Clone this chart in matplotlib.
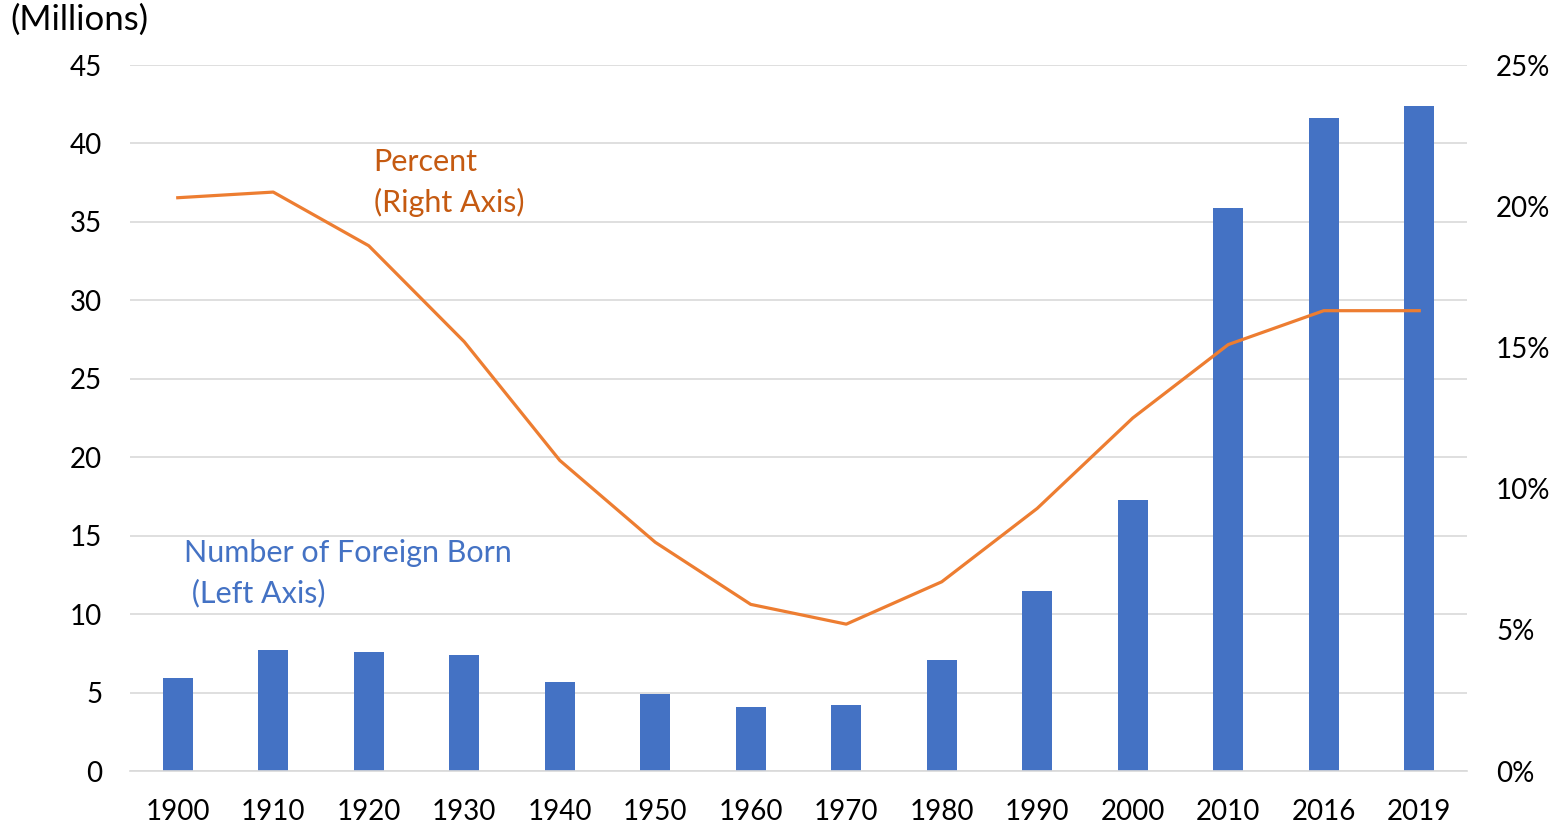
import numpy as np
import matplotlib
matplotlib.use("Agg")
import matplotlib.pyplot as plt
from matplotlib.ticker import FuncFormatter

# values
years = ["1900", "1910", "1920", "1930", "1940", "1950", "1960",
         "1970", "1980", "1990", "2000", "2010", "2016", "2019"]
foreign_born = [5.9, 7.7, 7.6, 7.4, 5.7, 4.9, 4.1,
                4.2, 7.1, 11.5, 17.3, 35.9, 41.6, 42.4]   # millions
percent = [20.3, 20.5, 18.6, 15.2, 11.0, 8.1, 5.9,
           5.2, 6.7, 9.3, 12.5, 15.1, 16.3, 16.3]        # percent

bar_col = "#4472C4"
line_col = "#ED7D31"
orange_txt = "#C55A11"
grid_col = "#D9D9D9"

plt.rcParams['font.family'] = ['Lato', 'DejaVu Sans']
fs = 20

fig = plt.figure(figsize=(15.65, 8.25), dpi=100)
ax = fig.add_axes([130 / 1565, 1 - 771 / 825, (1467 - 130) / 1565, (771 - 65) / 825])
ax2 = ax.twinx()

x = np.arange(len(years))
ax.bar(x, foreign_born, width=0.31, color=bar_col, zorder=2)
ax2.plot(x, percent, color=line_col, lw=2.3, zorder=3)

ax.set_xlim(-0.5, len(years) - 0.5)
ax.set_ylim(0, 45)
ax.set_yticks(range(0, 46, 5))
ax2.set_ylim(0, 25)
ax2.set_yticks(range(0, 26, 5))
ax2.yaxis.set_major_formatter(FuncFormatter(lambda v, p: "%d%%" % v))

ax.set_xticks(x)
ax.set_xticklabels(years)

ax.yaxis.grid(True, color=grid_col, lw=1.2, zorder=0)
ax.set_axisbelow(True)

for a in (ax, ax2):
    for s in a.spines.values():
        s.set_visible(False)
    a.tick_params(length=0, labelsize=fs, colors="#000000")
ax.spines['bottom'].set_visible(True)
ax.spines['bottom'].set_color(grid_col)
ax.spines['bottom'].set_linewidth(1.2)
ax.tick_params(axis='y', pad=20)
ax.tick_params(axis='x', pad=20)
ax2.tick_params(axis='y', pad=21)

# ax2 on top, so make its background transparent
ax.set_zorder(1)
ax2.set_zorder(2)
ax2.patch.set_visible(False)

ax.text(2.05, 37.5, "Percent\n(Right Axis)", color=orange_txt, fontsize=22,
        ha='left', va='center', linespacing=1.5)
ax.text(0.07, 12.6, "Number of Foreign Born\n (Left Axis)", color=bar_col, fontsize=22,
        ha='left', va='center', linespacing=1.5)

fig.text(10 / 1565, 1 - 20 / 825, "(Millions)", fontsize=25, ha='left', va='center')

fig.savefig("out.png", dpi=100)
